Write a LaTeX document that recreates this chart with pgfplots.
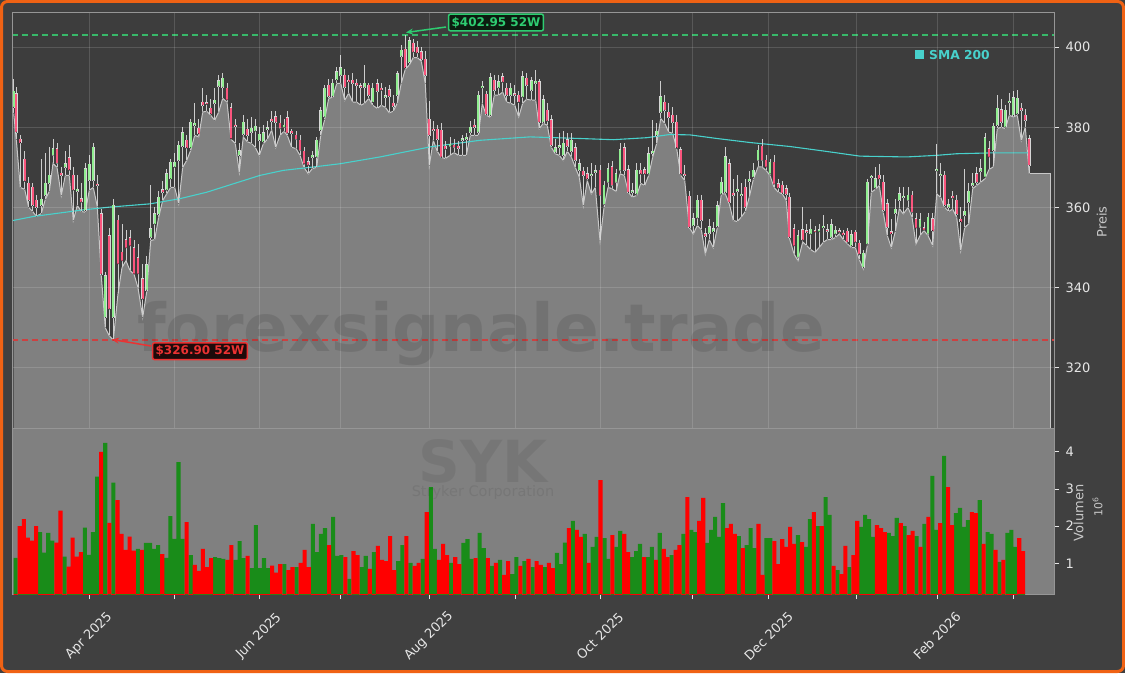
\documentclass[border=0pt]{standalone}
\usepackage{fontspec}
\setmainfont{DejaVu Sans}
\usepackage{pgfplots}
\usepackage{pgfplotstable}
\pgfplotsset{compat=1.18}
\usetikzlibrary{arrows.meta}

\definecolor{pagebg}{RGB}{64,64,64}
\definecolor{axbg}{RGB}{61,61,61}
\definecolor{volbg}{RGB}{128,128,128}
\definecolor{fillgray}{RGB}{128,128,128}
\definecolor{fillline}{RGB}{200,200,200}
\definecolor{wick}{RGB}{205,205,205}
\definecolor{bodyedge}{RGB}{215,215,215}
\definecolor{upc}{RGB}{144,238,144}
\definecolor{dnc}{RGB}{250,85,125}
\definecolor{volg}{RGB}{25,140,25}
\definecolor{volr}{RGB}{255,0,0}
\definecolor{sma}{RGB}{72,209,204}
\definecolor{hicol}{RGB}{46,204,113}
\definecolor{hibg}{RGB}{12,28,16}
\definecolor{hidash}{RGB}{55,185,105}
\definecolor{locol}{RGB}{235,50,50}
\definecolor{lobg}{RGB}{30,10,10}
\definecolor{lodash}{RGB}{205,65,65}
\definecolor{ticklab}{RGB}{230,230,230}
\definecolor{labc}{RGB}{200,200,200}
\definecolor{spine}{RGB}{150,150,150}
\definecolor{frame}{RGB}{240,98,20}

% daily candles, x in picture units
\pgfplotstableread{
x o h l c u
13.7 385 392 383.5 389 1
16.3 388.4 390 377 378.8 0
20.3 377 378 365 376.2 0
24.7 372 374 364.5 366.6 0
28.7 366 367.5 360 361.75 0
32.7 365 366 359 360.5 0
36.3 361.75 363 357.8 360 0
41.3 360.5 372 358.5 362 1
45.3 363 373.5 362 366 1
49.3 366 375 364 368 1
53 373 377.2 371 374.7 1
57 374.7 376 370 371 0
61.3 368.5 370 363 368 0
65.3 370 374 368 370.9 1
69.3 372.4 375.5 368 369.4 0
73.3 368 370 356.8 364.4 0
77.3 364 368 360.5 364.5 1
81.3 362.2 366 359 361.4 0
85.3 359.25 371 358.8 369.7 1
89.3 366.75 373 364.3 370.75 1
93.3 366.75 376 365 375 1
97.3 365.8 368 360.2 365.5 0
101.3 358.4 359.5 343 343.4 0
105.3 332.6 344 330 343 1
109.3 353 355 328 334.7 0
113.3 332.6 362 326.9 360.5 1
118 356.75 358 338.5 346 0
122 348.8 356 345 346.75 0
126 352 354.5 346.75 350 0
130 352.5 354.5 344.25 350.5 0
134 350 352 343.4 343.5 0
138 347.5 351 340 343.5 0
142.7 342.2 346 332.6 337.2 0
146.7 339.4 348 339 345.75 1
150.7 352.6 365.5 351.75 354.7 1
154.7 355.9 360 352 358.4 1
158.7 358.25 364 357.6 362.6 1
162.7 364.4 366.5 361.75 363.8 0
166.7 364.4 369.5 363.4 368.4 1
170.7 367.2 372 365 371.3 1
174.7 370.1 373.5 365 371.3 1
178.7 371.75 376.5 361 375.5 1
182.7 375.25 380 370 378.6 1
186.7 376.75 378 371.75 374.9 0
190.7 374.9 382 374.25 381.3 1
194.7 380.5 386 378 381 1
198.7 379.7 382 377.6 378.4 0
202.7 386.3 389.7 383.8 385.5 0
206.7 386 388 384 385.8 0
210.7 384.7 387 383 383.4 0
214.7 386 389.7 381.75 386.7 1
218.7 390.25 393 383.8 391.6 1
222.7 390 393.5 387.2 392.2 1
227 389.7 391 386.3 386.9 0
231 384.9 386 377 377.2 0
235.3 380.5 382 376 380.2 0
239.3 373 376 368.8 374.1 1
243.3 378.25 383 377.6 381.3 1
247.3 379.5 382 376.4 378 0
251.3 378.8 382.5 376 379.8 1
255.3 379.1 382 375 380.25 1
259.3 376.75 380 373 378.25 1
263.3 376.4 380.5 375.9 378.6 1
267.3 379.5 381.5 377 379.8 1
271.7 382 384 379.3 381.5 0
275.7 382.6 384 375 381.3 0
280 381 383 378 379.7 0
284 380 382 379 380.5 1
287.3 382.4 384 378 378.6 0
291.7 379 379.5 375 378.5 0
296 378 379 374.7 377 0
300 376.75 378 373 374.25 0
304 374 375 370 370.9 0
308.3 371.4 372.5 368.4 370.6 0
312.3 372.5 374 369.7 373 1
316.7 372.6 377.5 370 376.75 1
320.7 379.25 385 378 384.1 1
324.7 382.6 390.5 382 389.7 1
328.7 390.5 392 387.2 387.75 0
332.7 387.75 392 387.5 391 1
336.7 391.9 395 390.9 393.8 1
340.7 393 398 391 394.8 1
344.7 393 394.5 386.75 390 0
348.7 391.5 393 388.5 391.4 0
352.7 391.75 393.5 386.3 391 0
356.7 391 392 386.3 390.5 0
360.7 390.2 391 385.5 390 0
364.7 390 395.5 386 391 1
368.7 390.5 391 387.2 388 0
372.7 386.3 391 385.5 389.7 1
377.3 390.9 392 384.7 389 0
381.3 389.7 391 385.5 389.3 0
385.3 387.5 390 385 387.8 1
389.3 389.4 390.5 383.6 387.75 0
393.3 386 388 384 385.25 0
397.3 388 394 386 393.4 1
401.3 397.75 400.5 391 399.25 1
405.3 399.4 402.95 394.5 394.9 0
409.3 396.2 402.5 395.5 401.6 1
413.3 401 402 397.4 398.8 0
417.3 400 401.5 397.4 398.6 0
421.3 398.8 400 396.5 397 0
425.3 397 399 390.9 393 0
429.3 382 386.5 370.5 378 0
433.3 379.5 381.5 376.75 379.2 0
437.3 379.5 380.5 374 377 0
441.3 379.25 381 372.5 372.6 0
445.3 375.25 376.5 372.2 374.6 0
450 375.25 377.5 373 375.75 1
454 375.5 377 373.7 375 0
458.3 375.3 376.5 373 374.8 0
462.3 376.75 378 373 377.2 1
466.3 377 378.5 373 377.5 1
470.3 378.8 381.5 378 380 1
474.3 380.5 382 378 380 0
478.3 378.8 389 378 388 1
482.3 389.9 391.5 385.9 390.1 1
486.3 388.25 389 383 383.25 0
490.3 383 393.5 382.5 392.4 1
494.3 391.75 393 388 389.25 0
498.7 389.9 393 388 391.3 1
502.7 392.6 393.5 388.8 391.3 0
506.7 389.7 391 386.3 388 0
510.7 388 391 386 389.7 1
514.7 388.2 390.5 385.5 388 0
518.7 388 389 382.6 386.3 0
522.7 387.6 394 386 392.6 1
526.7 392.2 393.5 387 390.5 0
531.7 389.25 392.5 386.75 391.6 1
535.7 391 394.25 386.75 391.5 1
539.3 391.3 392 379.7 381.3 0
543.3 381.3 388 381 386.9 1
547.3 384.25 386 380.5 381.6 0
551.3 381.9 383 375 375.5 0
555.3 373.8 377 373.4 374.9 1
559.3 375 378.5 373 375.2 1
563.3 373 379 371.75 376 1
567.3 376.9 378.5 374 375.25 0
571.3 374 378.5 372.6 376.75 1
575.3 374.9 376 370 371.75 0
579.3 369.25 372 367.6 370.9 1
583.3 369 370 360.5 368 0
587.3 368.4 370 366.75 367.2 0
591.3 368 371 363.4 368.3 1
595.3 368.8 370.5 365 369 1
600 369.25 370.5 351.75 363 0
604 360.75 366.5 360 365.5 1
608 366.3 371 365 369.7 1
612 370.1 371.5 364.7 365.5 0
616 366.3 369.5 364 368.4 1
620 369.25 376 368.4 374.4 1
624.3 374.9 376 368 369.25 0
628.3 369.4 370.5 363.8 363.8 0
632.3 363.8 366 362.6 364.2 1
636.7 363.4 371 363 369.25 1
640.7 369.25 371 366 368.4 0
644.7 369.4 370 365.5 368.4 0
648.7 368.4 375 368 373.4 1
652.7 373.5 381.75 372.6 374 1
656.7 378 381 376 379 1
660.7 383.8 391.6 382.2 387.6 1
664.7 386.3 388 381 384.25 0
668.7 383.8 386 378.8 382.5 0
672.7 383 385 378.5 381.3 0
676.7 381.3 383 374.7 374.9 0
680.7 374.4 375 368 368.4 0
684.7 368.2 370.5 366.75 368 0
689.3 362.75 364 355 355.1 0
693.3 355.5 358.5 353.4 357.2 1
697.3 357.4 363 355.5 361.75 1
701.3 361.75 363 354.5 356.75 0
705.3 353.4 355 348.4 352.8 0
709.3 353.6 357 352 355.25 1
713.3 354 356.5 350 354.7 1
717.3 355.3 361.5 355 360.4 1
721.3 363.4 367.5 363.4 366.3 1
725.3 363.8 375 363.4 372.6 1
729.3 370.9 372 360.9 361.3 0
733.3 363.5 367 356.75 363 0
737.3 364 368 356.5 364.5 1
741.3 363 366 357.6 363.2 1
745.3 365.1 367 359 360.1 0
749.3 366.5 369 362.6 367 1
753.3 367.6 371 367 369.25 1
758 371.75 375.5 370.1 374.25 1
762 375.25 377 370.1 371.75 0
766 371.75 373 369.25 370.1 0
770 368.4 372 368 371.3 1
774 371.3 373 365 365.9 0
778.3 365.9 367 363.8 364.9 0
782.3 365.5 366.5 363.4 363.6 0
786.3 364.7 365.5 361.75 363.25 0
789.3 362.6 363.5 352.5 352.6 0
794 354.7 356 348.4 350.5 0
798 347.6 354.5 346.75 353 1
802.7 354.4 360.1 351.4 351.9 0
806.7 354 356 350.5 353.8 0
810.7 353.4 357 349.5 354.6 1
815 354.2 355.5 348.8 353.9 0
819 354 356 350 354.5 1
823.3 355 358 351.3 355.2 1
827.3 354.4 356 352 354.1 0
831.3 352.6 357 352 355.75 1
835.3 353.4 355.5 352.5 354.3 1
839.3 354 355 353.4 353.9 0
843.3 353.6 354.5 352 353.2 0
847.3 354.1 355 351 351.4 0
851.3 350.5 354.5 350 353.25 1
855.3 353.8 354.5 350 351.4 0
859.3 351.1 352 347 348.4 0
863.3 345.1 349.5 344.7 348.6 1
867.3 350.9 367 350.5 366.3 1
871.3 367.5 368 363.8 367.6 1
875.3 364.9 370 364.5 367.2 1
879.3 368 370.9 365.5 367.2 0
883.3 366.3 368 358.8 359.25 0
887.3 360.9 362 353 355.1 0
891.3 354 357 350 353.5 0
895.3 358.5 362 354 359.5 1
899.3 361.75 365 359.7 363.4 1
903.3 362.5 365 358.4 362.8 1
908 361.75 365 360 363 1
912 363 364 357.6 358.8 0
916 357.2 358.5 350.9 354.9 0
920 355.1 358.5 353 356.9 1
924 354.9 356.5 354.25 354.4 0
928 353.4 358.5 353 357.6 1
932.7 357.2 358.5 350.5 354.25 0
936.7 369.2 375.9 363.4 369.4 1
940.7 368 371 362.5 368.2 1
944.7 368 369 360 360.5 0
948.7 360.1 362 359 360.7 1
952.7 362.6 364 359.6 362.4 0
956.7 361.75 363 357.6 358.25 0
960.7 357 360 349.25 356.5 0
964.7 358 369.7 355 359 1
968.7 361.3 366 355.9 364 1
972.7 365.5 368.5 364.7 366 1
976.7 368.4 370 365.5 366.3 0
980.7 369 372 366.3 369.6 1
985 367.6 378.5 367.2 377.4 1
989 374.7 376.5 369.5 372.6 0
993.3 374.25 381 370.1 380.25 1
997.3 380.5 388 379.7 384.7 1
1001.3 384.4 387 380 381.3 0
1005.3 380.1 385.5 379.7 384.25 1
1009.3 386.2 388.5 383 386.5 1
1013.3 383 389 382.6 387.4 1
1017.3 383.4 389.4 383 387.2 1
1021.3 384.7 386 376.75 384.3 0
1025.3 383 384.5 380 381.75 0
1029.3 377.2 378 368.4 370.5 0
}\candles

% daily volume in millions, g=1 green, g=0 red
\pgfplotstableread{
v g
1.15 1
2.0 0
2.19 0
1.69 0
1.61 0
2.0 0
1.84 1
1.29 1
1.82 1
1.61 1
1.56 0
2.42 0
1.18 1
0.91 0
1.69 0
1.18 0
1.30 0
1.96 1
1.23 1
1.84 1
3.33 1
4.0 0
4.24 1
2.09 0
3.17 1
2.70 0
1.79 0
1.36 0
1.72 0
1.34 0
1.39 1
1.36 0
1.55 1
1.55 1
1.39 1
1.49 1
1.25 0
1.15 1
2.27 1
1.66 1
3.72 1
1.66 1
2.11 0
1.22 1
0.96 0
0.80 0
1.39 0
0.90 0
1.14 0
1.17 1
1.14 1
1.12 1
1.09 0
1.49 0
1.09 1
1.60 1
1.14 1
1.20 0
0.87 1
2.03 1
0.87 1
1.14 1
0.87 1
0.94 0
0.75 0
0.98 0
0.98 1
0.82 0
0.90 0
0.90 1
1.01 0
1.36 0
0.90 0
2.06 1
1.30 1
1.79 1
1.95 1
1.49 0
2.25 1
1.20 1
1.22 1
1.17 0
0.58 1
1.33 0
1.22 0
0.90 1
1.20 1
0.85 0
1.30 1
1.47 0
1.09 0
1.06 0
1.73 0
0.82 0
1.06 1
1.49 1
1.73 0
1.01 1
0.93 0
1.01 0
1.12 1
2.38 0
3.05 1
1.39 1
1.09 0
1.52 0
1.22 0
1.01 1
1.17 0
0.98 0
1.55 1
1.65 1
1.12 1
1.14 0
1.82 1
1.41 1
1.14 0
0.93 1
1.01 0
1.09 1
0.69 0
1.06 0
0.71 1
1.17 1
0.93 0
1.06 1
1.12 0
0.90 1
1.06 0
0.96 0
0.90 1
1.01 0
0.87 0
1.28 1
0.98 1
0.98 1
1.56 1
1.95 0
2.14 1
1.90 0
1.71 0
1.79 1
1.01 0
1.44 1
1.71 1
3.24 0
1.68 1
1.12 1
1.76 0
1.44 1
1.87 1
1.79 0
1.30 0
1.17 1
1.33 1
1.52 1
1.17 0
1.17 1
1.44 1
1.09 0
1.82 1
1.39 0
1.17 0
1.22 1
1.36 0
1.49 0
1.79 1
2.78 0
1.90 1
1.84 1
2.14 0
2.76 0
1.55 1
1.90 1
2.25 1
1.71 1
2.62 1
1.95 0
2.06 0
1.79 0
1.73 1
1.41 0
1.49 1
1.95 1
1.41 1
2.06 0
0.69 0
1.68 1
1.68 1
1.60 0
0.98 0
1.65 0
1.44 0
1.98 0
1.52 0
1.76 1
1.57 0
1.44 1
2.19 1
2.38 0
2.0 1
2.0 0
2.78 1
2.30 1
0.93 0
0.82 1
0.71 0
1.47 0
0.90 1
1.22 0
2.14 0
1.98 1
2.30 1
2.19 1
1.71 1
2.03 0
1.95 0
1.84 0
1.82 1
1.73 1
2.22 1
2.08 0
2.0 1
1.76 0
1.87 0
1.73 1
1.44 0
2.06 1
2.25 0
3.35 1
1.90 1
2.08 0
3.89 1
3.05 0
2.03 0
2.35 1
2.49 1
1.98 1
2.16 1
2.38 0
2.35 0
2.70 1
1.52 0
1.84 1
1.79 1
1.36 0
1.04 1
1.09 0
1.82 1
1.90 1
1.44 1
1.68 0
1.33 0
}\vol

\pgfplotsset{
  every tick label/.append style={font=\fontsize{13}{15}\selectfont, text=ticklab},
  candlebar/.style={only marks, mark=*, mark size=0.01pt,
    mark options={draw=none, fill=none}, forget plot,
    error bars/.cd, y dir=plus, y explicit, error mark=none},
}

\begin{document}
\begin{tikzpicture}[x=1pt,y=1pt]
\fill[pagebg] (0,0) rectangle (1125,673);
\useasboundingbox (0,0) rectangle (1125,673);

% ---------- price panel ----------
\begin{axis}[
  at={(12pt,245pt)}, anchor=south west, scale only axis,
  width=1042pt, height=416pt,
  xmin=12, xmax=1054, ymin=305, ymax=408.75,
  axis background/.style={fill=axbg},
  axis line style={spine, line width=0.8pt},
  axis on top,
  xtick={89,174,259,340,429,515,600,692.5,768.6,856.8,937,1013.6},
  xticklabels={}, xtick style={draw=none},
  ytick={320,340,360,380,400},
  ytick pos=right, yticklabel pos=right,
  tick align=outside, major tick length=5pt,
  ytick style={ticklab, line width=0.8pt},
  yticklabel style={xshift=3pt},
  grid=major, major grid style={white, opacity=0.14, line width=0.8pt},
  /pgf/number format/assume math mode=true,
]
  \addplot[draw=none, fill=fillgray, forget plot] table[x=x, y=l] {\candles} \closedcycle;
  \addplot[draw=none, fill=fillgray, forget plot] coordinates {(1029.3,368.4) (1050,368.4)} \closedcycle;
  \addplot[fillline, line width=1pt, forget plot] table[x=x, y=l] {\candles};
  \addplot[fillline, line width=1pt, forget plot] coordinates {(1029.3,368.4) (1050,368.4) (1050,300)};

  % 52 week high and low
  \addplot[hidash, line width=1.6pt, dash pattern=on 6pt off 4pt, forget plot] coordinates {(12,402.95) (1054,402.95)};
  \addplot[lodash, line width=1.5pt, dash pattern=on 6pt off 4pt, forget plot] coordinates {(12,326.9) (1054,326.9)};

  % SMA 200
  \addplot[sma, line width=1.1pt, forget plot] coordinates {
    (13,356.75) (33.3,357.75) (83.3,359.4) (110,360.1) (150,360.9) (180,362.2)
    (206.7,363.8) (233.3,365.9) (260,368) (283.3,369.25) (313.3,370.1) (340,370.9)
    (380,372.6) (430,375.1) (480,376.75) (530,377.6) (580,377.2) (613.3,376.9)
    (646.7,377.4) (670,378.2) (690,378.1) (717,377.2) (750,376.2) (790,375.2)
    (823,374.1) (860,372.8) (906.7,372.6) (936.7,373) (956.7,373.4) (990,373.6)
    (1029.3,373.6)};

  % wicks
  \addplot[candlebar, error bar style={draw=wick, line width=0.8pt}]
    table[x=x, y=l, y error expr=\thisrow{h}-\thisrow{l}] {\candles};
  % body rims
  \addplot[candlebar, error bar style={draw=bodyedge, line width=2.6pt}]
    table[x=x, y expr={min(\thisrow{o},\thisrow{c})-0.12},
      y error expr={max(abs(\thisrow{c}-\thisrow{o}),0.35)+0.24}] {\candles};
  % rising bodies
  \addplot[candlebar, error bar style={draw=upc, line width=1.9pt}]
    table[x=x, y expr={min(\thisrow{o},\thisrow{c})},
      y error expr={\thisrow{u}*max(abs(\thisrow{c}-\thisrow{o}),0.35)}] {\candles};
  % falling bodies
  \addplot[candlebar, error bar style={draw=dnc, line width=1.9pt}]
    table[x=x, y expr={min(\thisrow{o},\thisrow{c})},
      y error expr={(1-\thisrow{u})*max(abs(\thisrow{c}-\thisrow{o}),0.35)}] {\candles};
\end{axis}

% ---------- volume panel ----------
\begin{axis}[
  at={(12pt,79pt)}, anchor=south west, scale only axis,
  width=1042pt, height=166pt,
  xmin=12, xmax=1054, ymin=0.175, ymax=4.64,
  axis background/.style={fill=volbg},
  axis line style={spine, line width=0.8pt},
  xtick={89,174,259,340,429,515,600,692.5,768.6,856.8,937,1013.6},
  xticklabels={Apr 2025,,Jun 2025,,Aug 2025,,Oct 2025,,Dec 2025,,Feb 2026,},
  xtick pos=bottom,
  ytick={1,2,3,4}, ytick pos=right, yticklabel pos=right,
  tick align=outside, major tick length=5pt,
  tick style={ticklab, line width=0.8pt},
  xticklabel style={anchor=center, yshift=-37pt, rotate=45},
  yticklabel style={xshift=3pt},
  /pgf/number format/assume math mode=true,
]
  \addplot[ybar, bar width=4.1, bar shift=0pt, fill=volg, draw=none]
    table[x expr={\coordindex<135 ? 15.7+4.07*\coordindex : 561+3.95*(\coordindex-135)},
          y expr=\thisrow{v}*\thisrow{g}] {\vol};
  \addplot[ybar, bar width=4.1, bar shift=0pt, fill=volr, draw=none]
    table[x expr={\coordindex<135 ? 15.7+4.07*\coordindex : 561+3.95*(\coordindex-135)},
          y expr=\thisrow{v}*(1-\thisrow{g})] {\vol};
\end{axis}

% watermarks
\node[anchor=base, font=\bfseries\fontsize{66}{66}\selectfont, text=black, text opacity=0.1] at (481,321) {forexsignale.trade};
\node[anchor=base, font=\bfseries\fontsize{58}{58}\selectfont, text=black, text opacity=0.07] at (483,191) {SYK};
\node[anchor=base, font=\fontsize{14.5}{15}\selectfont, text=black, text opacity=0.07] at (483,177) {Stryker Corporation};

% axis labels
\node[rotate=90, text=labc, font=\fontsize{13}{15}\selectfont] at (1101.7,451) {Preis};
\node[rotate=90, text=labc, font=\fontsize{13}{15}\selectfont] at (1078.6,160) {Volumen};
\node[rotate=90, text=labc, font=\fontsize{11}{13}\selectfont] at (1097.5,166) {10\textsuperscript{6}};

% legend
\node[fill=sma, minimum size=9pt, inner sep=0pt] at (919.5,618.3) {};
\node[anchor=west, text=sma, font=\bfseries\fontsize{12.3}{14}\selectfont, inner sep=0pt] at (929,618.3) {SMA 200};

% annotations
\draw[-{Stealth[length=7pt,width=6pt]}, hicol, line width=1.5pt] (446,646) -- (406,640.5);
\node[draw=hicol, fill=hibg, text=hicol, line width=1.5pt, rounded corners=2pt, inner sep=3pt,
  font=\bfseries\fontsize{12}{13}\selectfont] at (496,650.5) {\$402.95 52W};
\draw[-{Stealth[length=7pt,width=6pt]}, locol, line width=1.5pt] (151,327) -- (112,333.5);
\node[draw=locol, fill=lobg, text=locol, line width=1.5pt, rounded corners=2pt, inner sep=3pt,
  font=\bfseries\fontsize{12}{13}\selectfont] at (200,321.8) {\$326.90 52W};

% frame
\draw[frame, line width=3pt, rounded corners=6pt] (1.5,1.5) rectangle (1123.5,671.5);
\end{tikzpicture}
\end{document}
